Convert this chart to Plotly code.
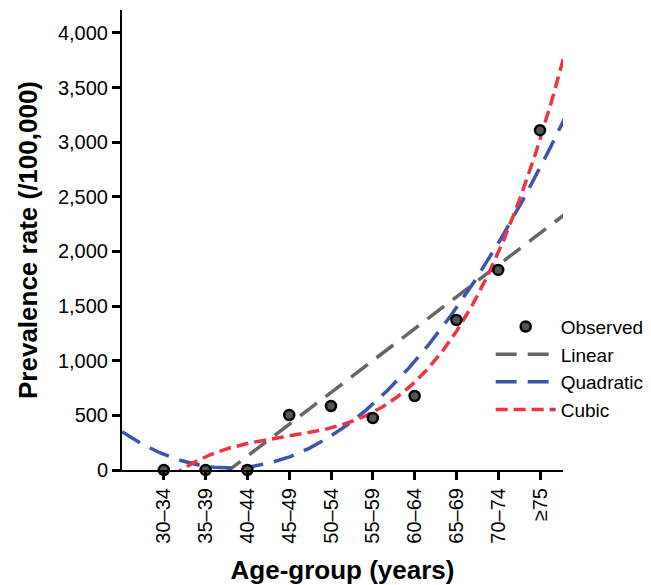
import numpy as np
import plotly.graph_objects as go

age_groups = ["30–34", "35–39", "40–44", "45–49", "50–54", "55–59",
              "60–64", "65–69", "70–74", "≥75"]
group_pos = [1, 2, 3, 4, 5, 6, 7, 8, 9, 10]
observed = [0, 0, 0, 503, 586, 476, 677, 1373, 1831, 3110]

y_ticks = [0, 500, 1000, 1500, 2000, 2500, 3000, 3500, 4000]

# fitted regression curves (OLS on the observed points)
x_fit = np.linspace(0, 10.6, 400)
fits = {}
for name, deg in [("Linear", 1), ("Quadratic", 2), ("Cubic", 3)]:
    coef = np.polyfit(group_pos, observed, deg)
    fits[name] = np.polyval(coef, x_fit)

styles = {
    "Linear": dict(color="#666666", dash="21px,11px"),
    "Quadratic": dict(color="#3b55ad", dash="21px,11px"),
    "Cubic": dict(color="#ef3340", dash="12px,6px"),
}

fig = go.Figure()
rank = {"Linear": 2, "Quadratic": 3, "Cubic": 4}
for name in ["Linear", "Quadratic", "Cubic"]:
    fig.add_trace(go.Scatter(
        x=x_fit, y=fits[name], mode="lines", name=name,
        line=dict(color=styles[name]["color"], width=3.5, dash=styles[name]["dash"]),
        legendrank=rank[name], legendgroup=name, cliponaxis=True,
    ))
fig.add_trace(go.Scatter(
    x=group_pos, y=observed, mode="markers", name="Observed",
    marker=dict(size=10, color="#555555", line=dict(color="black", width=2.5)),
    legendrank=1, legendgroup="obs", cliponaxis=False,
))

fig.update_layout(
    width=643, height=577,
    margin=dict(l=114, r=88, t=2, b=115),
    plot_bgcolor="white", paper_bgcolor="white",
    font=dict(family="Liberation Sans, Arial, sans-serif", size=20, color="black"),
    showlegend=True,
    legend=dict(x=0.836, y=0.353, xanchor="left", yanchor="top",
                bgcolor="rgba(0,0,0,0)", font=dict(size=19),
                itemwidth=60, tracegroupgap=0, traceorder="grouped"),
    xaxis=dict(
        range=[0, 10.55], tickmode="array", tickvals=group_pos, ticktext=age_groups,
        tickangle=-90, ticks="outside", ticklen=8, tickwidth=2.5, tickcolor="black",
        showline=True, linecolor="black", linewidth=2, showgrid=False, zeroline=False,
        automargin=False,
        title=dict(text="<b>Age-group (years)</b>", font=dict(size=26), standoff=19),
        tickfont=dict(size=20),
    ),
    yaxis=dict(
        range=[0, 4210], tickmode="array", tickvals=y_ticks, tickformat=",",
        ticks="outside", ticklen=8, tickwidth=2.5, tickcolor="black",
        showline=True, linecolor="black", linewidth=2, showgrid=False, zeroline=False,
        automargin=False,
        title=dict(text="<b>Prevalence rate (/100,000)</b>", font=dict(size=26), standoff=13),
        tickfont=dict(size=20),
    ),
)

fig.write_html("out.html")
